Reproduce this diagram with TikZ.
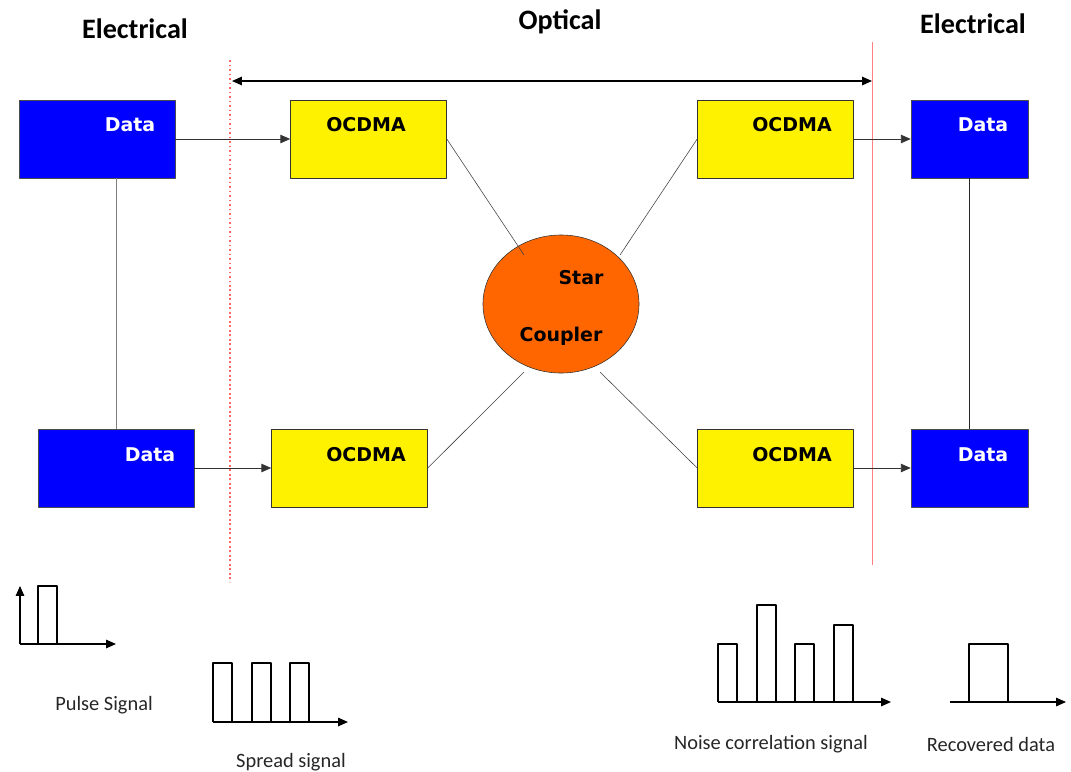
\documentclass[tikz,border=0pt]{standalone}
\usepackage{fontspec}
\setmainfont{Carlito}
\newfontfamily\boxfont{DejaVu Sans}
\usetikzlibrary{arrows.meta,shapes.geometric}

\definecolor{coupler}{RGB}{255,102,0}
\tikzset{
  databox/.style={draw=black!70,fill=blue,minimum width=3.9cm,minimum height=1.95cm},
  ocbox/.style={draw=black!80,fill=yellow,minimum width=3.9cm,minimum height=1.95cm},
  boxtext/.style={font=\boxfont\bfseries\fontsize{13.5}{15}\selectfont},
  title/.style={font=\bfseries\fontsize{20}{23}\selectfont},
  caption/.style={font=\fontsize{14.5}{16}\selectfont,text=black!85},
  link/.style={draw=black!80,line width=0.6pt},
  sig/.style={draw=black,line width=0.9pt}
}

\begin{document}
\begin{tikzpicture}[x=0.025cm,y=-0.025cm,>={Triangle[length=7pt,width=6pt]},line join=round]
			\useasboundingbox (0,0) rectangle (1071,771);
			% titles
			\node[title] (tel1) at (135,29) {Electrical};
			\node[title] (topt) at (560,22) {Optical};
			\node[title] (tel2) at (973,24) {Electrical};
			% boundaries
			\draw[red!60,dotted,line width=1.2pt] (230,60) -- (230,582);
			\draw[red!50,thin] (872,42) -- (872,565);
			\coordinate (ol) at (232,81);
			\coordinate (or) at (872,81);
			\draw[<->,line width=1pt] (ol) -- (or);
			% boxes
			\node[databox] (dl1) at (97,139) {};
			\node[databox] (dl2) at (116,468) {};
			\node[ocbox] (oc1) at (368.5,139) {};
			\node[ocbox] (oc2) at (349.5,468) {};
			\node[ocbox] (oc3) at (775.5,139) {};
			\node[ocbox] (oc4) at (775.5,468) {};
			\node[databox,minimum width=2.925cm] (dr1) at (969.5,139) {};
			\node[databox,minimum width=2.925cm] (dr2) at (969.5,468) {};
			\node[ellipse,draw=black!80,fill=coupler,minimum width=3.9cm,minimum height=3.45cm,inner sep=0pt] (sc) at (561,304) {};
			\foreach \n/\x/\y in {dl1/130/125,dl2/150/455,dr1/983/125,dr2/983/455}
				\node[boxtext,white] (\n t) at (\x,\y) {Data};
			\foreach \n/\x/\y in {oc1/366/125,oc2/366/455,oc3/792/125,oc4/792/455}
				\node[boxtext] (\n t) at (\x,\y) {OCDMA};
			\node[boxtext] (sct1) at (581,278) {Star};
			\node[boxtext] (sct2) at (561,336) {Coupler};
			% connections
			\draw[->,link] (dl1) -- (oc1);
			\draw[->,link] (dl2) -- (oc2);
			\draw[->,link] (oc3) -- (dr1);
			\draw[->,link] (oc4) -- (dr2);
			\draw[black!50] (dl2.north |- dl1.south) -- (dl2.north);
			\draw[black!85,line width=0.6pt] (dr1) -- (dr2);
			\coordinate (s1) at (524,255);
			\coordinate (s2) at (620,255);
			\coordinate (s3) at (524,372);
			\coordinate (s4) at (600,372);
			\draw[black!75] (oc1.east) -- (s1);
			\draw[black!75] (oc3.west) -- (s2);
			\draw[black!75] (oc2.east) -- (s3);
			\draw[black!75] (oc4.west) -- (s4);
			% signals
			\draw[sig,->] (20,644) -- (20,586);
			\draw[sig,->] (20,644) -- (116,644);
			\draw[sig] (38,644) -- (38,586) -- (57,586) -- (57,644);
			\draw[sig,->] (213,722) -- (348,722);
			\foreach \x in {213,252,290}
				\draw[sig] (\x,722) -- (\x,663) -- (\x+19,663) -- (\x+19,722);
			\draw[sig,->] (718,702) -- (891,702);
			\foreach \x/\h in {718/644,757/605,795/644,834/625}
				\draw[sig] (\x,702) -- (\x,\h) -- (\x+19,\h) -- (\x+19,702);
			\draw[sig,->] (950,702) -- (1066,702);
			\draw[sig] (969,702) -- (969,644) -- (1008,644) -- (1008,702);
			\node[caption] (cp1) at (104,705) {Pulse Signal};
			\node[caption] (cp2) at (291,762) {Spread signal};
			\node[caption] (cp3) at (771,744) {Noise correlation signal};
			\node[caption] (cp4) at (991,744) {Recovered data};
		\end{tikzpicture}
\end{document}
